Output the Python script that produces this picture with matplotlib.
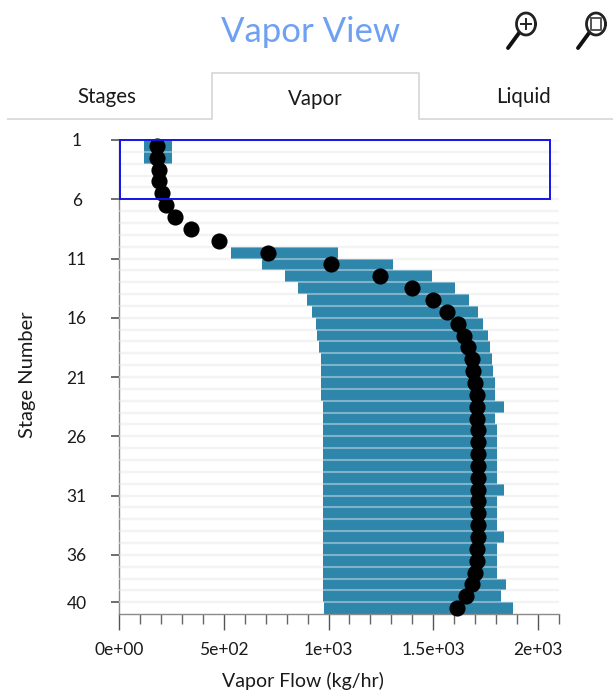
import numpy as np
import matplotlib
matplotlib.use("Agg")
import matplotlib.pyplot as plt
from matplotlib.lines import Line2D
from matplotlib.patches import Rectangle

W, H = 613, 695
stages = list(range(1, 41))
vapor_flow = [181, 181, 191, 191, 207, 223, 267, 342, 479, 713,
              1010, 1244, 1397, 1498, 1566, 1617, 1648, 1666, 1684, 1691,
              1699, 1707, 1707, 1709, 1715, 1715, 1715, 1715, 1715, 1715,
              1715, 1715, 1715, 1715, 1707, 1707, 1699, 1684, 1656, 1615]
range_low = [120, 120, None, None, None, None, None, None, None, 533,
             684, 794, 853, 896, 921, 939, 946, 955, 963, 963,
             963, 963, 972, 972, 972, 972, 972, 972, 972, 972,
             972, 972, 972, 972, 972, 972, 972, 972, 972, 980]
range_high = [254, 254, None, None, None, None, None, None, None, 1047,
              1308, 1493, 1602, 1671, 1712, 1737, 1763, 1772, 1780, 1787,
              1796, 1796, 1838, 1796, 1804, 1804, 1804, 1804, 1804, 1838,
              1804, 1804, 1804, 1838, 1804, 1804, 1804, 1847, 1822, 1881]
x_ticks = [0, 500, 1000, 1500, 2000]
x_labels = ["0e+00", "5e+02", "1e+03", "1.5e+03", "2e+03"]
y_ticks = [1, 6, 11, 16, 21, 26, 31, 36, 40]
tab_names = ["Stages", "Vapor", "Liquid"]

plt.rcParams["font.family"] = "Lato"
fig = plt.figure(figsize=(W / 100, H / 100), dpi=100)

def fx(p):
    return p / W

def fy(p):
    return 1 - p / H

ax = fig.add_axes([fx(119), fy(613.5), (559 - 119) / W, (613.5 - 140) / H])
ax.set_xlim(0, 2100)
ax.set_ylim(40.95, 1)

for s in stages:
    ax.axhline(s, color="#ececec", lw=1.6, zorder=1)
    ax.axhline(s, color="white", alpha=0.38, lw=1.5, zorder=3)

for s, lo, hi in zip(stages, range_low, range_high):
    if lo is not None:
        ax.barh(s, hi - lo, left=lo, height=1.0, align="edge", color="#2f86ab", lw=0, zorder=2)

ax.scatter(vapor_flow, [s + 0.5 for s in stages], s=135, color="black", lw=0, zorder=4, clip_on=False)
ax.add_patch(Rectangle((3, 1), 2054, 5, fill=False, ec="#1414e6", lw=1.4, zorder=5, clip_on=False))

for side in ("top", "right"):
    ax.spines[side].set_visible(False)
for side in ("left", "bottom"):
    ax.spines[side].set_color("#8a8a8a")
    ax.spines[side].set_linewidth(1.0)

ax.set_xticks(x_ticks, x_labels)
ax.set_xticks(np.arange(0, 2101, 100), minor=True)
ax.set_yticks(y_ticks, [str(v) for v in y_ticks])
ax.tick_params(axis="x", which="major", length=11.5, width=1.0, color="#555555", labelsize=12.5, pad=9, labelcolor="#1a1a1a")
ax.tick_params(axis="x", which="minor", length=7, width=1.0, color="#666666")
ax.tick_params(axis="y", which="major", length=6, width=1.2, color="#555555", labelsize=12.5, pad=24.5, labelcolor="#1a1a1a")
for t in ax.get_yticklabels():
    t.set_ha("center")

fig.text(fx(303), fy(681), "Vapor Flow (kg/hr)", ha="center", va="center", fontsize=14, color="#1a1a1a")
fig.text(fx(27), fy(375), "Stage Number", ha="center", va="center", rotation=90, fontsize=14.5, color="#1a1a1a")
fig.text(fx(311), fy(32), "Vapor View", ha="center", va="center", fontsize=25, color="#6fa1f2")

for name, px in zip(tab_names, [107, 315, 523]):
    fig.text(fx(px), fy(97 if name != "Vapor" else 99), name, ha="center", va="center", fontsize=14.8, color="#1a1a1a")

tab_x = [8, 212, 212, 419, 419, 613]
tab_y = [119, 119, 73, 73, 119, 119]
fig.add_artist(Line2D([fx(v) for v in tab_x], [fy(v) for v in tab_y], color="#d9d9d9", lw=1.3))

for cx, inner in [(526, "plus"), (596, "box")]:
    cy = 24
    rx, ry = 9.5, 11
    fig.add_artist(Line2D([fx(cx - 7), fx(cx - 18)], [fy(cy + 9), fy(cy + 24)], color="#111111", lw=2.8, solid_capstyle="round"))
    theta = np.linspace(0, 2 * np.pi, 80)
    fig.add_artist(Line2D(fx(cx) + rx / W * np.cos(theta), fy(cy) + ry / H * np.sin(theta), color="#222222", lw=2.0))
    if inner == "plus":
        fig.add_artist(Line2D([fx(cx - 5), fx(cx + 5)], [fy(cy), fy(cy)], color="#222222", lw=1.4))
        fig.add_artist(Line2D([fx(cx), fx(cx)], [fy(cy - 5), fy(cy + 5)], color="#222222", lw=1.4))
    else:
        fig.add_artist(Line2D([fx(cx - 5), fx(cx + 5), fx(cx + 5), fx(cx - 5), fx(cx - 5)],
                              [fy(cy - 6), fy(cy - 6), fy(cy + 6), fy(cy + 6), fy(cy - 6)], color="#555555", lw=1.4))

fig.savefig("out.png", dpi=100)
